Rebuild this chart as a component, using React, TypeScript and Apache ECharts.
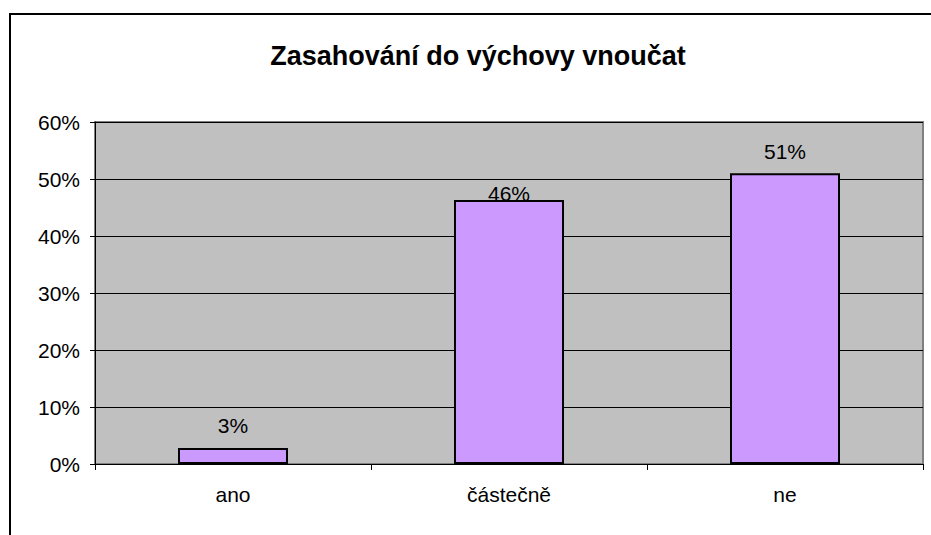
import React, { useEffect, useRef } from "react";
import * as echarts from "echarts";

const categories = ["ano", "částečně", "ne"];
const values = [2.8, 46.3, 51.0];
const labels = ["3%", "46%", "51%"];
const labelDistances = [12, -4, 11];
const yTicks = [0, 10, 20, 30, 40, 50, 60];

export default function App() {
  const ref = useRef<HTMLDivElement>(null);
  useEffect(() => {
    if (!ref.current) return;
    const chart = echarts.init(ref.current, null, { renderer: "svg" });
    const font = "'Liberation Sans', Arial, sans-serif";
    chart.setOption({
      animation: false,
      backgroundColor: "#ffffff",
      title: {
        text: "Zasahování do výchovy vnoučat",
        left: 473,
        textAlign: "center",
        top: 37,
        textStyle: { fontFamily: font, fontSize: 27, fontWeight: "bold", color: "#000" },
      },
      graphic: [
        {
          type: "rect",
          shape: { x: 10, y: 14, width: 1000, height: 1000 },
          style: { fill: "none", stroke: "#000", lineWidth: 2 },
          silent: true,
        },
      ],
      grid: {
        left: 95,
        top: 122,
        right: 8,
        bottom: 71,
        show: true,
        backgroundColor: "#c0c0c0",
        borderColor: "#808080",
        borderWidth: 2,
      },
      xAxis: {
        type: "category",
        data: categories,
        boundaryGap: true,
        axisLine: { lineStyle: { color: "#000", width: 1 } },
        axisTick: { show: true, length: 6, lineStyle: { color: "#000" } },
        axisLabel: { fontFamily: font, fontSize: 21, color: "#000", margin: 20 },
      },
      yAxis: {
        type: "value",
        min: yTicks[0],
        max: yTicks[yTicks.length - 1],
        interval: 10,
        axisLine: { show: true, lineStyle: { color: "#000", width: 1 } },
        axisTick: { show: true, length: 5, lineStyle: { color: "#000" } },
        axisLabel: {
          fontFamily: font,
          fontSize: 21,
          color: "#000",
          margin: 15,
          formatter: (v: number) => v + "%",
        },
        splitLine: { show: true, lineStyle: { color: "#000", width: 1 } },
      },
      series: [
        {
          type: "bar",
          data: values.map((v, i) => ({
            value: v,
            label: { distance: labelDistances[i], formatter: labels[i] },
          })),
          barWidth: 110,
          itemStyle: { color: "#cc99ff", borderColor: "#000", borderWidth: 2 },
          label: {
            show: true,
            position: "top",
            fontFamily: font,
            fontSize: 21,
            color: "#000",
          },
        },
      ],
    });
    return () => chart.dispose();
  }, []);
  return (
    <div
      ref={ref}
      style={{ position: "fixed", left: 0, top: 0, width: 931, height: 535 }}
    />
  );
}
